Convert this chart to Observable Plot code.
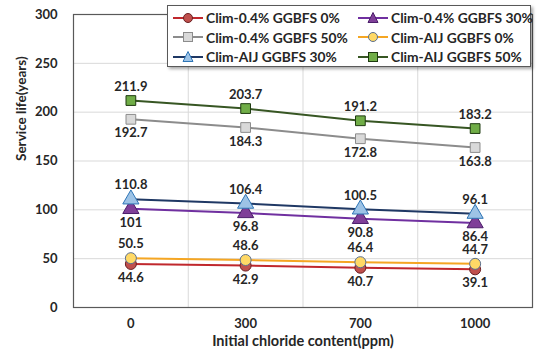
<!DOCTYPE html>
<html><head><meta charset="utf-8">
<script src="https://cdn.jsdelivr.net/npm/d3@7"></script>
<script src="https://cdn.jsdelivr.net/npm/@observablehq/plot@0.6"></script>
<style>
body{margin:0;background:#fff;font-family:Lato,"Noto Sans",sans-serif;}
#wrap{position:relative;width:542px;height:352px;}
#legend{position:absolute;left:167px;top:5px;width:364px;height:62px;background:#fff;border:1px solid #595959;box-shadow:2px 2px 3px rgba(0,0,0,0.35);box-sizing:border-box;}
.item{position:absolute;display:flex;align-items:center;font:bold 13.8px Lato,sans-serif;color:#262626;white-space:nowrap;}
.item svg{margin-right:3px;}
</style></head>
<body><div id="wrap"><div id="chart"></div><div id="legend"></div></div>
<script>
const categories = ["0", "300", "700", "1000"];
const seriesNames = ["Clim-0.4% GGBFS 0%", "Clim-0.4% GGBFS 30%", "Clim-0.4% GGBFS 50%", "Clim-AIJ GGBFS 0%", "Clim-AIJ GGBFS 30%", "Clim-AIJ GGBFS 50%"];
const clim04_0  = [44.6, 42.9, 40.7, 39.1];
const clim04_30 = [101, 96.8, 90.8, 86.4];
const clim04_50 = [192.7, 184.3, 172.8, 163.8];
const aij_0     = [50.5, 48.6, 46.4, 44.7];
const aij_30    = [110.8, 106.4, 100.5, 96.1];
const aij_50    = [211.9, 203.7, 191.2, 183.2];
const yTicks = [0, 50, 100, 150, 200, 250, 300];

const styles = [
  {line:"#c0282d", fill:"#c0504d", stroke:"#6b1f22", symbol:"circle", above:false},
  {line:"#7030a0", fill:"#7f3f98", stroke:"#4b1e6a", symbol:"triangle", above:false},
  {line:"#8c8c8c", fill:"#d9d9d9", stroke:"#8c8c8c", symbol:"square", above:false},
  {line:"#f5a623", fill:"#ffd966", stroke:"#5b6f8f", symbol:"circle", above:true},
  {line:"#1f3864", fill:"#9dc3e6", stroke:"#2e75b6", symbol:"triangle", above:true},
  {line:"#375623", fill:"#70ad47", stroke:"#1e3a10", symbol:"square", above:true}
];
const allValues = [clim04_0, clim04_30, clim04_50, aij_0, aij_30, aij_50];
const data = [];
allValues.forEach((vals, s) => vals.forEach((v, i) => data.push({series: seriesNames[s], s, i, cat: categories[i], v})));

const marks = [
  Plot.gridY(yTicks, {stroke:"#d9d9d9", strokeOpacity:1}),
  Plot.gridX(d3.range(categories.length - 1).map(i => i + 0.5), {stroke:"#d9d9d9", strokeOpacity:1}),
  Plot.frame({stroke:"#595959", strokeWidth:1.2}),
  Plot.axisY(yTicks, {tickSize:0, tickPadding:16, fontSize:13, fontWeight:"bold", fill:"#262626", label:null}),
  Plot.axisX(d3.range(categories.length), {tickSize:0, tickPadding:11, fontSize:13, fontWeight:"bold", fill:"#262626", tickFormat: i => categories[i], label:null}),
  Plot.text(["Service life(years)"], {frameAnchor:"left", rotate:-90, dx:-52, fontSize:13.5, fontWeight:"bold", fill:"#262626"}),
  Plot.text(["Initial chloride content(ppm)"], {frameAnchor:"bottom", dy:38.5, fontSize:14.5, fontWeight:"bold", fill:"#262626"})
];
styles.forEach((st, s) => {
  const d = data.filter(r => r.s === s);
  marks.push(Plot.line(d, {x:"i", y:"v", stroke:st.line, strokeWidth:2}));
});
styles.forEach((st, s) => {
  const d = data.filter(r => r.s === s);
  marks.push(Plot.dot(d, {x:"i", y:"v", symbol:()=>st.symbol, fill:st.fill, stroke:st.stroke, strokeWidth:1, r: st.symbol === "triangle" ? 6 : 5.5}));
  marks.push(Plot.text(d, {x:"i", y:"v", text:r => String(r.v), dy: st.above ? -14 : 14, fontSize:13, fontWeight:"bold", fill:"#262626"}));
});

const chart = Plot.plot({
  width:542, height:352,
  marginLeft:73, marginRight:10, marginTop:14, marginBottom:45,
  style:{fontFamily:"Lato, sans-serif", background:"#fff", overflow:"visible"},
  x:{type:"linear", domain:[-0.5, categories.length - 0.5], axis:null},
  y:{domain:[0, 300], axis:null},
  symbol:{type:"identity"},
  marks
});
document.getElementById("chart").appendChild(chart);

// legend
const legend = document.getElementById("legend");
const order = [0, 1, 2, 3, 4, 5];
order.forEach((s, k) => {
  const st = styles[s];
  const col = k % 2, row = Math.floor(k / 2);
  const div = document.createElement("div");
  div.className = "item";
  div.style.left = (col === 0 ? 5 : 190) + "px";
  div.style.top = (3 + row * 19.5) + "px";
  div.style.height = "17px";
  let sym;
  if (st.symbol === "circle") sym = `<circle cx="15" cy="8" r="4.5" fill="${st.fill}" stroke="${st.stroke}"/>`;
  else if (st.symbol === "square") sym = `<rect x="10.5" y="3.5" width="9" height="9" fill="${st.fill}" stroke="${st.stroke}"/>`;
  else sym = `<path d="M15,2.5 L20,12.5 L10,12.5 Z" fill="${st.fill}" stroke="${st.stroke}"/>`;
  div.innerHTML = `<svg width="30" height="16"><line x1="0" x2="30" y1="8" y2="8" stroke="${st.line}" stroke-width="2"/>${sym}</svg><span>${seriesNames[s]}</span>`;
  legend.appendChild(div);
});
</script></body></html>
